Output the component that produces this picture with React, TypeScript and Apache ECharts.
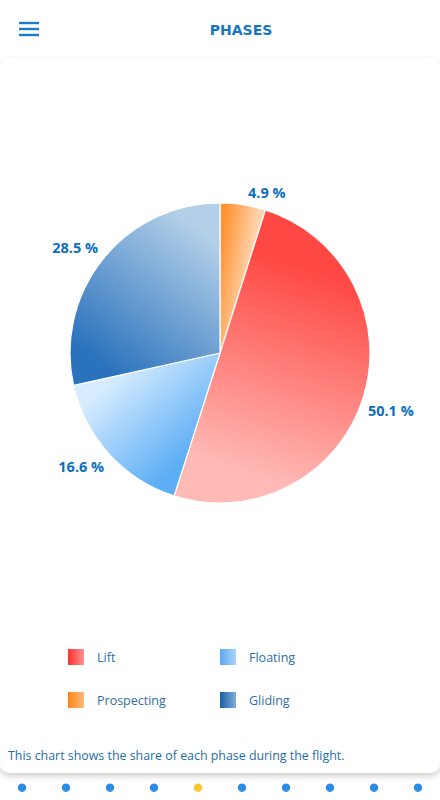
import React, { useEffect, useRef } from "react";
import * as echarts from "echarts";

// ---- data ----
const categories = ["Prospecting", "Lift", "Floating", "Gliding"];
const shares = [4.9, 50.1, 16.6, 28.5];
const sliceStartColors = ["#ff9231", "#ff4843", "#5eaef5", "#2a72bc"];
const sliceEndColors = ["#ffd3ad", "#ffbab6", "#d7ecff", "#b4d0e9"];
const legendLeftNames = ["Lift", "Prospecting"];
const legendRightNames = ["Floating", "Gliding"];
const legendStartColors: Record<string, string> = {
  Lift: "#ff2f2f",
  Prospecting: "#ff8616",
  Floating: "#5ca8ef",
  Gliding: "#1c5ea5",
};
const legendEndColors: Record<string, string> = {
  Lift: "#ff9090",
  Prospecting: "#ffb978",
  Floating: "#a9d4fb",
  Gliding: "#80afdc",
};
const titleText = "PHASES";
const noteText = "This chart shows the share of each phase during the flight.";
const pageCount = 10;
const activePage = 4;

export default function App() {
  const ref = useRef<HTMLDivElement>(null);

  useEffect(() => {
    document.body.style.margin = "0";
    const chart = echarts.init(ref.current!, null, { renderer: "svg" });

    const cx = 220;
    const cy = 353;
    const r = 150;
    const total = shares.reduce((a, b) => a + b, 0);
    const angles: number[][] = [];
    let acc = 0;
    shares.forEach((v) => {
      const a0 = (acc / total) * Math.PI * 2;
      acc += v;
      const a1 = (acc / total) * Math.PI * 2;
      angles.push([a0, a1]);
    });
    const pt = (a: number, rho: number) => [cx + rho * Math.sin(a), cy - rho * Math.cos(a)];

    const pieData = categories.map((name, i) => {
      const [a0, a1] = angles[i];
      const p0 = pt(a0, 0.72 * r);
      const p1 = pt(a1, 0.72 * r);
      return {
        name,
        value: shares[i],
        itemStyle: {
          color: new echarts.graphic.LinearGradient(
            p0[0], p0[1], p1[0], p1[1],
            [
              { offset: 0, color: sliceStartColors[i] },
              { offset: 1, color: sliceEndColors[i] },
            ],
            true
          ),
        },
      };
    });

    const labelDy = angles.map(([a0, a1]) => {
      const mid = (a0 + a1) / 2;
      return -Math.cos(mid) < 0 ? -12 : 12;
    });

    const legendData = (names: string[]) =>
      names.map((name) => ({
        name,
        icon: "rect",
        itemStyle: {
          borderWidth: 0,
          color: new echarts.graphic.LinearGradient(0, 0, 1, 0, [
            { offset: 0, color: legendStartColors[name] },
            { offset: 1, color: legendEndColors[name] },
          ]),
        },
      }));

    const legendCommon = {
      orient: "vertical" as const,
      itemWidth: 16,
      itemHeight: 16,
      itemGap: 27,
      padding: 0,
      selectedMode: false,
      itemStyle: { borderWidth: 0 },
      textStyle: {
        color: "#2d6fa6",
        fontSize: 12.5,
        fontFamily: "Open Sans",
        padding: [0, 0, 0, 8],
      },
    };

    const dots = Array.from({ length: pageCount }, (_, i) => ({
      type: "circle",
      shape: { cx: 22 + i * 44, cy: 787.7, r: 4.2 },
      style: { fill: i === activePage ? "#fbc72c" : "#2a8ce6" },
      silent: true,
    }));

    const burger = [23, 29, 35].map((y) => ({
      type: "line",
      shape: { x1: 19, y1: y, x2: 39, y2: y },
      style: { stroke: "#1a7ccc", lineWidth: 2.4 },
      silent: true,
    }));

    chart.setOption({
      animation: false,
      backgroundColor: "#ffffff",
      legend: [
        { ...legendCommon, left: 68, top: 649, data: legendData(legendLeftNames) },
        { ...legendCommon, left: 220, top: 649, data: legendData(legendRightNames) },
      ],
      graphic: [
        {
          type: "rect",
          z: -10,
          shape: { x: 0, y: 58, width: 440, height: 715, r: 10 },
          style: {
            fill: "#ffffff",
            shadowBlur: 6,
            shadowOffsetY: 3,
            shadowColor: "rgba(0,0,0,0.2)",
          },
          silent: true,
        },
        ...burger,
        {
          type: "text",
          x: 241,
          y: 30,
          style: {
            text: titleText,
            fill: "#1577c9",
            font: "bold 14px 'DejaVu Sans'",
            align: "center",
            verticalAlign: "middle",
          },
          silent: true,
        },
        {
          type: "text",
          x: 8,
          y: 755,
          style: {
            text: noteText,
            fill: "#1d6ea8",
            font: "12.4px 'Open Sans'",
            align: "left",
            verticalAlign: "middle",
          },
          silent: true,
        },
        ...dots,
      ],
      series: [
        {
          type: "pie",
          center: [cx, cy],
          radius: r,
          startAngle: 90,
          clockwise: true,
          avoidLabelOverlap: false,
          itemStyle: { borderColor: "#ffffff", borderWidth: 1.2 },
          label: {
            show: true,
            position: "outside",
            distanceToLabelLine: 5,
            formatter: (p: any) => `${Number(p.value).toFixed(1)} %`,
            color: "#0b6fc2",
            fontSize: 14.5,
            fontWeight: "bold",
            fontFamily: "Open Sans",
          },
          labelLine: { show: false, length: 0, length2: 0 },
          labelLayout: (params: any) => ({ dy: labelDy[params.dataIndex] }),
          emphasis: { disabled: true },
          data: pieData,
        },
      ],
    });

    return () => chart.dispose();
  }, []);

  return <div ref={ref} style={{ width: 440, height: 800 }} />;
}
